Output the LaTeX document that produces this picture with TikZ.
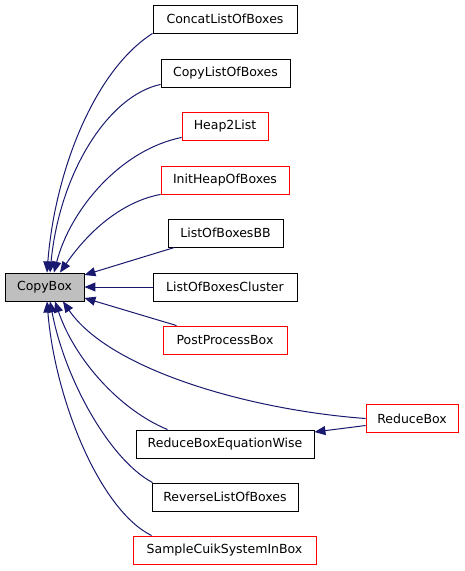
\documentclass[tikz,border=0pt]{standalone}
\usepackage{fontspec}
\setmainfont{DejaVu Sans}
\usetikzlibrary{arrows.meta}
\definecolor{edgeblue}{HTML}{191970}
\definecolor{boxgray}{HTML}{BFBFBF}
\definecolor{boxred}{HTML}{FF0000}
\begin{document}
\begin{tikzpicture}[x=1pt,y=-1pt,
  bx/.style={draw=black,line width=0.9pt,minimum height=28pt,inner sep=0pt,
    font=\fontsize{12.5pt}{14pt}\selectfont},
  rbx/.style={bx,draw=boxred},
  edge/.style={draw=edgeblue,line width=1pt,-{Triangle[length=11pt,width=9pt]}}]
\useasboundingbox (0,0) rectangle (464,571);
\fill[white] (0,0) rectangle (464,571);
\node[bx,fill=boxgray,minimum width=79pt] (copy) at (44.5,287) {CopyBox};
\node[bx,minimum width=144pt] (concat) at (225,19) {ConcatListOfBoxes};
\node[bx,minimum width=129pt] (copylist) at (225.5,73) {CopyListOfBoxes};
\node[rbx,minimum width=86pt] (heap) at (225,126) {Heap2List};
\node[rbx,minimum width=128pt] (init) at (225,180) {InitHeapOfBoxes};
\node[bx,minimum width=115pt] (bb) at (225.5,233) {ListOfBoxesBB};
\node[bx,minimum width=144pt] (cluster) at (225,287) {ListOfBoxesCluster};
\node[rbx,minimum width=124pt] (post) at (225,340) {PostProcessBox};
\node[bx,minimum width=178pt] (rew) at (225,444) {ReduceBoxEquationWise};
\node[bx,minimum width=146pt] (reverse) at (225,497) {ReverseListOfBoxes};
\node[rbx,minimum width=183pt] (sample) at (224.5,550) {SampleCuikSystemInBox};
\node[rbx,minimum width=92pt] (reduce) at (412,418.5) {ReduceBox};

\draw[edge] (concat.south west) .. controls (95,70) and (55,170) .. ([xshift=2.5pt]copy.north);
\draw[edge] ([yshift=3pt]copylist.south west) .. controls (110,95) and (60,170) .. ([xshift=5.5pt]copy.north);
\draw[edge] ([yshift=3pt]heap.south west) .. controls (120,150) and (70,210) .. ([xshift=9.5pt]copy.north);
\draw[edge] (init.south west) .. controls (130,200) and (95,222) .. ([xshift=15.5pt]copy.north);
\draw[edge] ([xshift=7pt]bb.south west) -- ([yshift=12pt]copy.east);
\draw[edge] (cluster.west) -- (copy.east);
\draw[edge] ([xshift=14pt]post.north west) -- ([yshift=-11pt]copy.east);
\draw[edge] (reduce.west) .. controls (250,410) and (110,370) .. ([xshift=18.5pt]copy.south);
\draw[edge] ([xshift=32pt]rew.north west) .. controls (120,410) and (75,360) .. ([xshift=10.5pt]copy.south);
\draw[edge] ([xshift=1pt]reverse.north west) .. controls (110,460) and (65,380) .. ([xshift=5.5pt]copy.south);
\draw[edge] ([xshift=19pt]sample.north west) .. controls (100,510) and (55,400) .. ([xshift=2.5pt]copy.south);
\draw[edge] ([yshift=-7pt]reduce.west) -- ([yshift=12pt]rew.east);
\end{tikzpicture}
\end{document}
